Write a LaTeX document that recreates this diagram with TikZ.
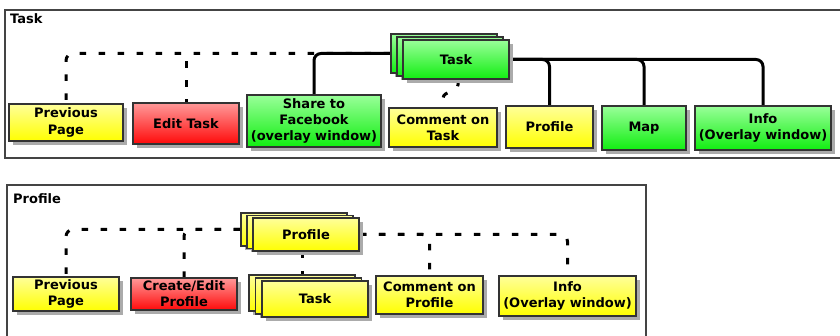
\documentclass[tikz,border=0pt]{standalone}
\usepackage{fontspec}
\setmainfont{DejaVu Sans}
\usetikzlibrary{shadows,calc}
\pgfdeclarelayer{bg}
\pgfsetlayers{bg,main}

\definecolor{ytop}{HTML}{FFFF99}
\definecolor{ybot}{HTML}{FFFF00}
\definecolor{gtop}{HTML}{99FF99}
\definecolor{gbot}{HTML}{11EE11}
\definecolor{rtop}{HTML}{FF9999}
\definecolor{rbot}{HTML}{FF0A0A}
\definecolor{edge}{HTML}{333333}
\definecolor{frameline}{HTML}{444444}

\tikzset{
  pagebox/.style={draw=edge, line width=1.6pt, align=center, inner sep=1.5pt,
    font=\bfseries\fontsize{13}{16.3}\selectfont, text=black,
    drop shadow={shadow xshift=4pt, shadow yshift=-4pt, fill=black!33, opacity=1}},
  ybox/.style={pagebox, top color=ytop, bottom color=ybot},
  gbox/.style={pagebox, top color=gtop, bottom color=gbot},
  rbox/.style={pagebox, top color=rtop, bottom color=rbot},
  panel/.style={draw=frameline, line width=1.3pt},
  title/.style={anchor=west, inner sep=0pt, font=\bfseries\fontsize{13}{15}\selectfont},
  solidc/.style={line width=3pt, black, rounded corners=7pt},
  dashc/.style={line width=3pt, black, rounded corners=7pt, dash pattern=on 6.5pt off 12.5pt},
}

\begin{document}
\begin{tikzpicture}[x=1pt, y=-1pt]
\useasboundingbox (0,0) rectangle (840,336);

% ---------- Task screen ----------
\node[title] (tasktitle) at (10,19) {Task};

\node[gbox, minimum width=106pt, minimum height=39pt] (taskB2) at (444,53.5) {};
\node[gbox, minimum width=106pt, minimum height=39pt] (taskB1) at (450,56.5) {};
\node[gbox, minimum width=106pt, minimum height=39pt] (task)   at (456,59.5) {Task};

\node[ybox, minimum width=114pt, minimum height=37pt] (prev)    at (66,122.5)  {Previous\\Page};
\node[rbox, minimum width=106pt, minimum height=41pt] (edit)    at (186,123.5) {Edit Task};
\node[gbox, minimum width=134pt, minimum height=52pt] (share)   at (314,121)   {Share to\\Facebook\\(overlay window)};
\node[ybox, minimum width=108pt, minimum height=39pt] (comment) at (443,127.5) {Comment on\\Task};
\node[ybox, minimum width=87pt,  minimum height=42pt] (profile) at (549.5,127)  {Profile};
\node[gbox, minimum width=84pt,  minimum height=44pt] (map)     at (644,128)   {Map};
\node[gbox, minimum width=136pt, minimum height=44pt] (info)    at (763,128)   {Info\\(Overlay window)};

% ---------- Profile screen ----------
\node[title] (proftitle) at (13,199) {Profile};

\node[ybox, minimum width=106pt, minimum height=33pt] (profB2) at (294,229.5) {};
\node[ybox, minimum width=106pt, minimum height=33pt] (profB1) at (300,232) {};
\node[ybox, minimum width=106pt, minimum height=33pt] (prof)   at (306,234.5) {Profile};

\node[ybox, minimum width=106pt, minimum height=36pt] (taskTwoB2) at (302,293) {};
\node[ybox, minimum width=106pt, minimum height=36pt] (taskTwoB1) at (308.5,296) {};
\node[ybox, minimum width=106pt, minimum height=36pt] (taskTwo)   at (315,299) {Task};

\node[ybox, minimum width=106pt, minimum height=34pt] (prevTwo)  at (66,294)    {Previous\\Page};
\node[rbox, minimum width=106pt, minimum height=32pt] (cedit)    at (184,294)   {Create/Edit\\Profile};
\node[ybox, minimum width=107pt, minimum height=38pt] (commTwo)  at (429.5,295) {Comment on\\Profile};
\node[ybox, minimum width=137pt, minimum height=40pt] (infoTwo)  at (567.5,296) {Info\\(Overlay window)};

\begin{pgfonlayer}{bg}
  % panel frames (both run past the edge of the page)
  \draw[panel] (5,10) rectangle (850,158);
  \draw[panel] (7,345) -- (7,185) -- (646,185) -- (646,345);

  % Task screen links
  \draw[dashc] (taskB2.west) -| (prev.north);
  \draw[dashc] (taskB2.west) -| (edit.north);
  \draw[solidc] (taskB2.west) -| (share.north);
  \draw[solidc] (task.east) -| (profile.north);
  \draw[solidc] (task.east) -| (map.north);
  \draw[solidc] (task.east) -| (info.north);
  \draw[dashc, rounded corners=3pt] ([xshift=2pt]task.south) -- ++(0,8)
        -- ($(comment.north)+(0,-12)$) -- (comment.north);

  % Profile screen links
  \draw[dashc] (profB2.west) -| (prevTwo.north);
  \draw[dashc] (profB2.west) -| (cedit.north);
  \draw[dashc] (prof.east) -| (commTwo.north);
  \draw[dashc] (prof.east) -| (infoTwo.north);
  \draw[dashc] (prof.south -| taskTwoB2.north) -- (taskTwoB2.north);
\end{pgfonlayer}
\end{tikzpicture}
\end{document}
